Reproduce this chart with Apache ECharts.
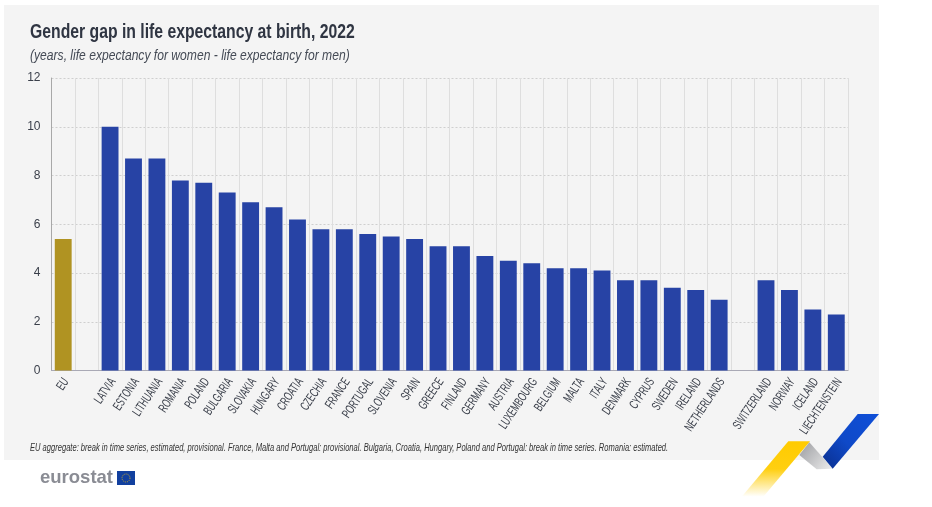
<!DOCTYPE html>
<html>
<head>
<meta charset="utf-8">
<style>html,body{margin:0;padding:0;background:#fff}#chart{width:932px;height:507px}</style>
<script src="https://cdn.jsdelivr.net/npm/echarts@6/dist/echarts.min.js"></script>
</head>
<body>
<div id="chart"></div>
<script>
var categories = ['EU', '', 'LATVIA', 'ESTONIA', 'LITHUANIA', 'ROMANIA', 'POLAND', 'BULGARIA', 'SLOVAKIA', 'HUNGARY', 'CROATIA', 'CZECHIA', 'FRANCE', 'PORTUGAL', 'SLOVENIA', 'SPAIN', 'GREECE', 'FINLAND', 'GERMANY', 'AUSTRIA', 'LUXEMBOURG', 'BELGIUM', 'MALTA', 'ITALY', 'DENMARK', 'CYPRUS', 'SWEDEN', 'IRELAND', 'NETHERLANDS', ' ', 'SWITZERLAND', 'NORWAY', 'ICELAND', 'LIECHTENSTEIN']
var gapValues = [5.4, null, 10, 8.7, 8.7, 7.8, 7.7, 7.3, 6.9, 6.7, 6.2, 5.8, 5.8, 5.6, 5.5, 5.4, 5.1, 5.1, 4.7, 4.5, 4.4, 4.2, 4.2, 4.1, 3.7, 3.7, 3.4, 3.3, 2.9, null, 3.7, 3.3, 2.5, 2.3]

var titleText = 'Gender gap in life expectancy at birth, 2022'
var subText = '(years, life expectancy for women - life expectancy for men)'
var noteText = 'EU aggregate: break in time series, estimated, provisional. France, Malta and Portugal: provisional. Bulgaria, Croatia, Hungary, Poland and Portugal: break in time series. Romania: estimated.'

var sans = '"Liberation Sans", sans-serif'
var textColor = '#3a3f4a'

function fade(stops) {
  return { type: 'linear', x: 0, y: 0, x2: 0, y2: 1, colorStops: stops }
}

// no condensed font is installed, so the x labels are squeezed by hand
function renderCategoryLabel(params, api) {
  var p = api.coord([params.dataIndex, 0])
  return {
    type: 'text',
    x: p[0] + 3,
    y: p[1] + 9,
    rotation: 56 * Math.PI / 180,
    scaleX: 0.63,
    silent: true,
    style: {
      text: categories[params.dataIndex],
      font: '13px ' + sans,
      fill: textColor,
      align: 'right',
      verticalAlign: 'middle',
    },
  }
}

var chart = echarts.init(document.getElementById('chart'), null, { renderer: 'canvas' })

var option = {
  backgroundColor: '#ffffff',
  animation: false,
  grid: { left: 51.5, right: 84, top: 78, bottom: 136.5, containLabel: false },
  xAxis: {
    type: 'category',
    data: categories,
    axisLine: { lineStyle: { color: '#a9a9b5', width: 1 } },
    axisTick: { show: false },
    axisLabel: { show: false },
    splitLine: { show: true, interval: 0, lineStyle: { color: '#dedede', width: 1 } },
  },
  yAxis: {
    type: 'value',
    min: 0,
    max: 12,
    interval: 2,
    axisLine: { show: true, lineStyle: { color: '#a8a8a8', width: 1 } },
    axisTick: { show: false },
    axisLabel: { margin: 11, padding: [2, 0, 0, 0], fontFamily: sans, fontSize: 12, color: textColor },
    splitLine: { lineStyle: { color: '#cfcfcf', type: [2, 2], width: 1 } },
  },
  series: [
    {
      type: 'bar',
      data: gapValues,
      barWidth: '72%',
      itemStyle: {
        color: function (p) {
          return p.name === 'EU' ? '#b09322' : '#2743a5'
        },
      },
    },
    {
      type: 'custom',
      data: categories.map(function (c, i) { return [i, 0] }),
      encode: { x: 0, y: 1 },
      clip: false,
      silent: true,
      renderItem: renderCategoryLabel,
    },
  ],
  graphic: [
    { type: 'rect', z: -10, shape: { x: 4, y: 5, width: 875, height: 455 }, style: { fill: '#f4f4f4' } },
    { type: 'text', z: 5, x: 30, y: 22, scaleX: 0.75, style: { text: titleText, font: 'bold 21px ' + sans, fill: '#2f3542' } },
    { type: 'text', z: 5, x: 30, y: 49, scaleX: 0.865, style: { text: subText, font: 'italic 14px ' + sans, fill: '#444a55' } },
    { type: 'text', z: 5, x: 30, y: 443, scaleX: 0.72, style: { text: noteText, font: 'italic 10.5px ' + sans, fill: '#333333' } },
    // eurostat logo
    { type: 'text', z: 5, x: 40, y: 468, style: { text: 'eurostat', font: 'bold 18.5px ' + sans, fill: '#8a8c94' } },
    { type: 'rect', z: 5, shape: { x: 117, y: 471, width: 18, height: 14 }, style: { fill: '#12409f' } },
    { type: 'circle', z: 6, shape: { cx: 126, cy: 478, r: 4 }, style: { fill: 'none', stroke: '#c9a92c', lineWidth: 1, lineDash: [1, 1] } },
    // ribbons, bottom right
    { type: 'polygon', z: 5, shape: { points: [[857.7, 414], [879, 414], [832.7, 468.7], [822.7, 456.7]] }, style: { fill: { type: 'linear', x: 1, y: 0, x2: 0, y2: 1, colorStops: [{ offset: 0, color: '#0f4fd8' }, { offset: 0.55, color: '#0f49c8' }, { offset: 1, color: '#0a2f8e' }] } } },
    { type: 'polygon', z: 4, shape: { points: [[809.3, 442.3], [832.7, 468.7], [816.7, 469.3], [799.3, 455]] }, style: { fill: { type: 'linear', x: 0, y: 0, x2: 1, y2: 1, colorStops: [{ offset: 0, color: '#9b9ca0' }, { offset: 1, color: '#eeeeee' }] } } },
    { type: 'polygon', z: 5, shape: { points: [[788.3, 441.3], [810, 441.3], [763.3, 496.7], [741.7, 496.7]] }, style: { fill: fade([{ offset: 0, color: '#ffcb00' }, { offset: 0.5, color: '#ffcf10' }, { offset: 1, color: '#ffffff' }]) } },
  ],
}

chart.setOption(option)
</script>
</body>
</html>
